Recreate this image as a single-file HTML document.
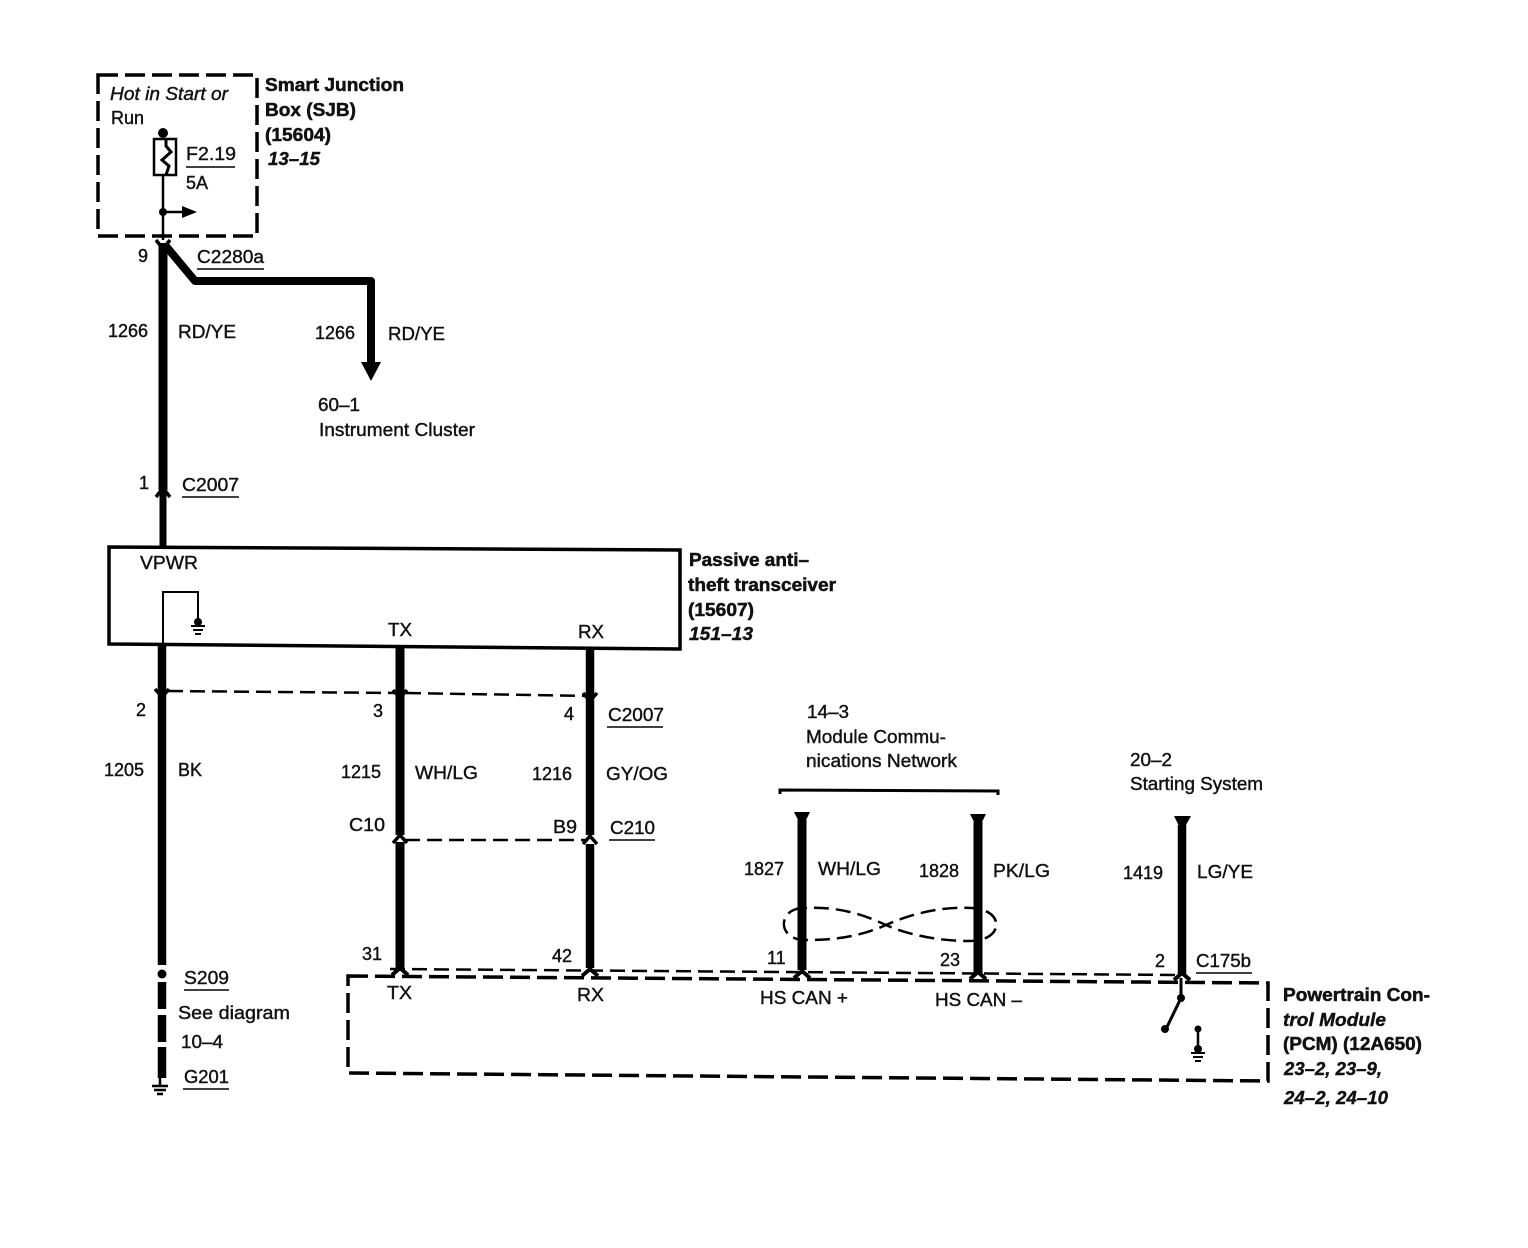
<!DOCTYPE html>
<html><head><meta charset="utf-8"><style>
html,body{margin:0;padding:0;background:#fff}
svg{display:block}
text{font-family:"Liberation Sans",sans-serif;font-size:18px;fill:#111;stroke:#111;stroke-width:.4}
.b{font-weight:bold;stroke-width:.5}
.i{font-style:italic}
.bi{font-weight:bold;font-style:italic}
.w{fill:none;stroke:#000;stroke-linecap:butt}
.u{fill:none;stroke:#000;stroke-width:1.5}
.d{fill:none;stroke:#000;stroke-width:2.5;stroke-dasharray:15 7}
.bx{fill:none;stroke:#000;stroke-width:3.5;stroke-dasharray:20 7}
.f{fill:#000;stroke:none}
</style></head><body>
<svg width="1528" height="1248" viewBox="0 0 1528 1248" xmlns="http://www.w3.org/2000/svg">
<!-- SJB -->
<rect class="bx" x="98" y="75" width="159" height="161"/>
<text class="i" x="110" y="100" textLength="118" lengthAdjust="spacingAndGlyphs">Hot in Start or</text>
<text x="111" y="124">Run</text>
<circle class="f" cx="163" cy="133" r="5"/>
<path class="w" stroke-width="2.5" d="M163 133V139M163 175V240M163 212H183"/>
<rect class="w" stroke-width="2.5" x="154" y="139" width="22" height="36"/>
<path class="w" stroke-width="3" d="M166 139v7l5 6-9 8 7 6-3 9"/>
<circle class="f" cx="163" cy="212" r="4"/>
<path class="f" d="M182 206l15 6-15 6z"/>
<text x="186" y="160" textLength="50" lengthAdjust="spacingAndGlyphs">F2.19</text>
<path class="u" d="M186 167H235"/>
<text x="186" y="189">5A</text>
<text class="b" x="265" y="91" textLength="139" lengthAdjust="spacingAndGlyphs">Smart Junction</text>
<text class="b" x="265" y="116" textLength="91" lengthAdjust="spacingAndGlyphs">Box (SJB)</text>
<text class="b" x="265" y="141" textLength="66" lengthAdjust="spacingAndGlyphs">(15604)</text>
<text class="bi" x="268" y="165" textLength="52" lengthAdjust="spacingAndGlyphs">13–15</text>
<!-- Main wire top -->
<path class="w" stroke-width="9" d="M163 243V490"/>
<path class="w" stroke-width="7" d="M163 490V547"/>
<path class="w" stroke-width="3.5" d="M156 240l7 9 7-9"/>
<path class="w" stroke-width="3.5" d="M156 497l7-9 7 9"/>
<path class="w" stroke-width="8" stroke-linejoin="round" d="M165 245L195 281H371V365"/>
<path class="f" d="M361 362H381L371 381z"/>
<text x="138" y="262">9</text>
<text x="197" y="263" textLength="67" lengthAdjust="spacingAndGlyphs">C2280a</text>
<path class="u" d="M197 269H264"/>
<text x="108" y="337">1266</text>
<text x="178" y="338" textLength="58" lengthAdjust="spacingAndGlyphs">RD/YE</text>
<text x="315" y="339">1266</text>
<text x="388" y="340" textLength="57" lengthAdjust="spacingAndGlyphs">RD/YE</text>
<text x="318" y="411" textLength="42" lengthAdjust="spacingAndGlyphs">60–1</text>
<text x="319" y="436" textLength="156" lengthAdjust="spacingAndGlyphs">Instrument Cluster</text>
<text x="139" y="489">1</text>
<text x="182" y="491" textLength="57" lengthAdjust="spacingAndGlyphs">C2007</text>
<path class="u" d="M182 497H239"/>
<!-- Passive box -->
<path class="w" stroke-width="3.5" d="M109 547L680 550V649L109 644Z"/>
<text x="140" y="569" textLength="58" lengthAdjust="spacingAndGlyphs">VPWR</text>
<path class="w" stroke-width="2" d="M163 644V592H198V622"/>
<circle class="f" cx="198" cy="622" r="4"/>
<path class="w" stroke-width="2" d="M191 626H205M193 630H203M195 634H201"/>
<text x="388" y="636" textLength="24" lengthAdjust="spacingAndGlyphs">TX</text>
<text x="578" y="638" textLength="26" lengthAdjust="spacingAndGlyphs">RX</text>
<text class="b" x="689" y="566" textLength="120" lengthAdjust="spacingAndGlyphs">Passive anti–</text>
<text class="b" x="688" y="591" textLength="148" lengthAdjust="spacingAndGlyphs">theft transceiver</text>
<text class="b" x="688" y="616" textLength="66" lengthAdjust="spacingAndGlyphs">(15607)</text>
<text class="bi" x="689" y="640" textLength="64" lengthAdjust="spacingAndGlyphs">151–13</text>
<!-- Lower wires -->
<path class="w" stroke-width="8.5" d="M162 645V965"/>
<path class="w" stroke-width="9" d="M400 648V835M400 842V968"/>
<path class="w" stroke-width="8.5" d="M590 650V835M590 844V968"/>
<path class="d" d="M168 691L400 693"/>
<path class="d" d="M406 693L590 696"/>
<path class="d" d="M405 840H585"/>
<path class="w" stroke-width="3.5" d="M155 689l7 8 7-8M393 690l7 8 7-8M583 693l7 8 7-8"/>
<path class="w" stroke-width="3.5" d="M393 843l7-8 7 8M583 844l7-8 7 8"/>
<text x="136" y="716">2</text>
<text x="373" y="717">3</text>
<text x="564" y="720">4</text>
<text x="608" y="721" textLength="56" lengthAdjust="spacingAndGlyphs">C2007</text>
<path class="u" d="M607 727H663"/>
<text x="104" y="776">1205</text>
<text x="178" y="776">BK</text>
<text x="341" y="778">1215</text>
<text x="415" y="779" textLength="63" lengthAdjust="spacingAndGlyphs">WH/LG</text>
<text x="532" y="780">1216</text>
<text x="606" y="780" textLength="62" lengthAdjust="spacingAndGlyphs">GY/OG</text>
<text x="349" y="831" textLength="36" lengthAdjust="spacingAndGlyphs">C10</text>
<text x="553" y="833" textLength="24" lengthAdjust="spacingAndGlyphs">B9</text>
<text x="610" y="834" textLength="45" lengthAdjust="spacingAndGlyphs">C210</text>
<path class="u" d="M609 840H655"/>
<!-- S209/G201 -->
<circle class="f" cx="162" cy="974" r="4.5"/>
<path class="w" stroke-width="8.5" d="M162 982V1009M162 1015V1042M162 1047V1078"/>
<path class="w" stroke-width="2.5" d="M160 1078V1085M152 1086H168M154 1090H166M157 1094H163"/>
<text x="184" y="984" textLength="45" lengthAdjust="spacingAndGlyphs">S209</text>
<path class="u" d="M184 990H229"/>
<text x="178" y="1019" textLength="112" lengthAdjust="spacingAndGlyphs">See diagram</text>
<text x="181" y="1048" textLength="42" lengthAdjust="spacingAndGlyphs">10–4</text>
<text x="184" y="1083" textLength="45" lengthAdjust="spacingAndGlyphs">G201</text>
<path class="u" d="M183 1089H229"/>
<!-- Right upper -->
<text x="807" y="718" textLength="42" lengthAdjust="spacingAndGlyphs">14–3</text>
<text x="806" y="743" textLength="140" lengthAdjust="spacingAndGlyphs">Module Commu-</text>
<text x="806" y="767" textLength="151" lengthAdjust="spacingAndGlyphs">nications Network</text>
<text x="1130" y="766" textLength="42" lengthAdjust="spacingAndGlyphs">20–2</text>
<text x="1130" y="790" textLength="133" lengthAdjust="spacingAndGlyphs">Starting System</text>
<path class="w" stroke-width="3" d="M780 794V790L998 791V795"/>
<path class="w" stroke-width="9" d="M802 820V970M978 822V973"/>
<path class="w" stroke-width="8.5" d="M1182 825V975"/>
<path class="f" d="M794 812H810L802 828zM970 814H986L978 830zM1174 816H1191L1182 832z"/>
<path class="d" stroke-dasharray="14 8" d="M802 908C776 910 778 942 808 940C842 940 866 934 886 925C908 915 940 906 972 908C1006 910 1004 942 968 941C940 941 908 935 886 925C864 915 840 906 802 908"/>
<text x="744" y="875">1827</text>
<text x="818" y="875" textLength="63" lengthAdjust="spacingAndGlyphs">WH/LG</text>
<text x="919" y="877">1828</text>
<text x="993" y="877" textLength="57" lengthAdjust="spacingAndGlyphs">PK/LG</text>
<text x="1123" y="879">1419</text>
<text x="1197" y="878" textLength="56" lengthAdjust="spacingAndGlyphs">LG/YE</text>
<text x="362" y="960">31</text>
<text x="552" y="962">42</text>
<text x="767" y="964">11</text>
<text x="940" y="966">23</text>
<text x="1155" y="967">2</text>
<text x="1196" y="967" textLength="55" lengthAdjust="spacingAndGlyphs">C175b</text>
<path class="u" d="M1196 973H1252"/>
<!-- PCM -->
<path class="bx" d="M348 976L1268 983V1081L348 1073Z"/>
<path class="d" d="M390 969L1180 975"/>
<path class="w" stroke-width="4" d="M392 975l8-7 8 7M582 976l8-7 8 7M794 978l8-7 8 7M970 979l8-7 8 7M1174 980l8-7 8 7"/>
<text x="387" y="999" textLength="25" lengthAdjust="spacingAndGlyphs">TX</text>
<text x="577" y="1001" textLength="27" lengthAdjust="spacingAndGlyphs">RX</text>
<text x="760" y="1004" textLength="88" lengthAdjust="spacingAndGlyphs">HS CAN +</text>
<text x="935" y="1006" textLength="87" lengthAdjust="spacingAndGlyphs">HS CAN –</text>
<path class="w" stroke-width="3" d="M1181 978V998L1166 1029"/>
<circle class="f" cx="1181" cy="998" r="4"/>
<circle class="f" cx="1165" cy="1029" r="4"/>
<circle class="f" cx="1198" cy="1029" r="3.5"/>
<path class="w" stroke-width="2.5" d="M1198 1029V1050"/>
<circle class="f" cx="1198" cy="1049" r="4"/>
<path class="w" stroke-width="2" d="M1191 1053H1205M1193 1057H1203M1195 1061H1201"/>
<text class="b" x="1283" y="1001" textLength="147" lengthAdjust="spacingAndGlyphs">Powertrain Con-</text>
<text class="bi" x="1283" y="1026" textLength="103" lengthAdjust="spacingAndGlyphs">trol Module</text>
<text class="b" x="1283" y="1050" textLength="139" lengthAdjust="spacingAndGlyphs">(PCM) (12A650)</text>
<text class="bi" x="1284" y="1075" textLength="98" lengthAdjust="spacingAndGlyphs">23–2, 23–9,</text>
<text class="bi" x="1284" y="1104" textLength="104" lengthAdjust="spacingAndGlyphs">24–2, 24–10</text>
</svg>
</body></html>
